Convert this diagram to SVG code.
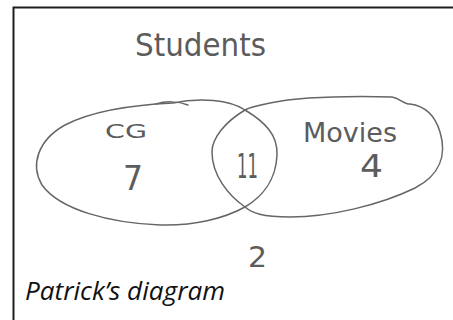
<svg xmlns="http://www.w3.org/2000/svg" width="453" height="320" viewBox="0 0 453 320">
<style>
.hand{font-family:"DejaVu Sans","Liberation Sans",sans-serif;fill:#5c5c5c;font-weight:normal}
.set{fill:none;stroke:#666;stroke-width:1.5;stroke-linecap:round;stroke-linejoin:round}
.cap{font-family:"Open Sans","Noto Sans",sans-serif;font-style:italic;fill:#111}
</style>
<rect width="453" height="320" fill="#fff"/>
<g id="frame">
<path d="M13.5,320 V7.5 H453" fill="none" stroke="#1e1e1e" stroke-width="2"/>
</g>
<g id="title">
<text class="hand" x="135" y="56" font-size="32" textLength="131" lengthAdjust="spacingAndGlyphs">Students</text>
</g>
<g id="set-cg">
<path class="set" d="M173,103 C200,97 230,100 245,110 C265,122 278,135 277,155 C276,180 262,197 245,207 C225,218 195,226 160,225 C110,223 60,210 42,185 C30,165 38,140 65,125 C90,112 130,105 173,103"/>
<path class="set" d="M156,104 C165,101 178,101 188,105"/>
<text class="hand" x="105" y="138" font-size="20" textLength="42" lengthAdjust="spacingAndGlyphs">CG</text>
<text class="hand" x="123" y="190" font-size="34" textLength="20" lengthAdjust="spacingAndGlyphs">7</text>
</g>
<g id="set-movies">
<path class="set" d="M245,110 C225,122 212,138 212,152 C212,175 228,195 245,207 C252,213 262,217 290,217 C330,217 380,205 415,188 C440,175 447,155 440,132 C435,115 425,106 410,104 C403,104 400,98 392,97 C350,96 300,97 270,103 C260,105 250,107 245,110"/>
<text class="hand" x="303" y="142" font-size="26" textLength="94" lengthAdjust="spacingAndGlyphs">Movies</text>
<text class="hand" x="360" y="177" font-size="32" textLength="23" lengthAdjust="spacingAndGlyphs">4</text>
</g>
<g id="both">
<text class="hand" x="237" y="178" font-size="34" textLength="21" lengthAdjust="spacingAndGlyphs">11</text>
</g>
<g id="neither">
<text class="hand" x="248" y="267" font-size="29" textLength="19" lengthAdjust="spacingAndGlyphs">2</text>
</g>
<g id="caption">
<text class="cap" x="25" y="300" font-size="25.5" textLength="200" lengthAdjust="spacingAndGlyphs">Patrick’s diagram</text>
</g>
</svg>
